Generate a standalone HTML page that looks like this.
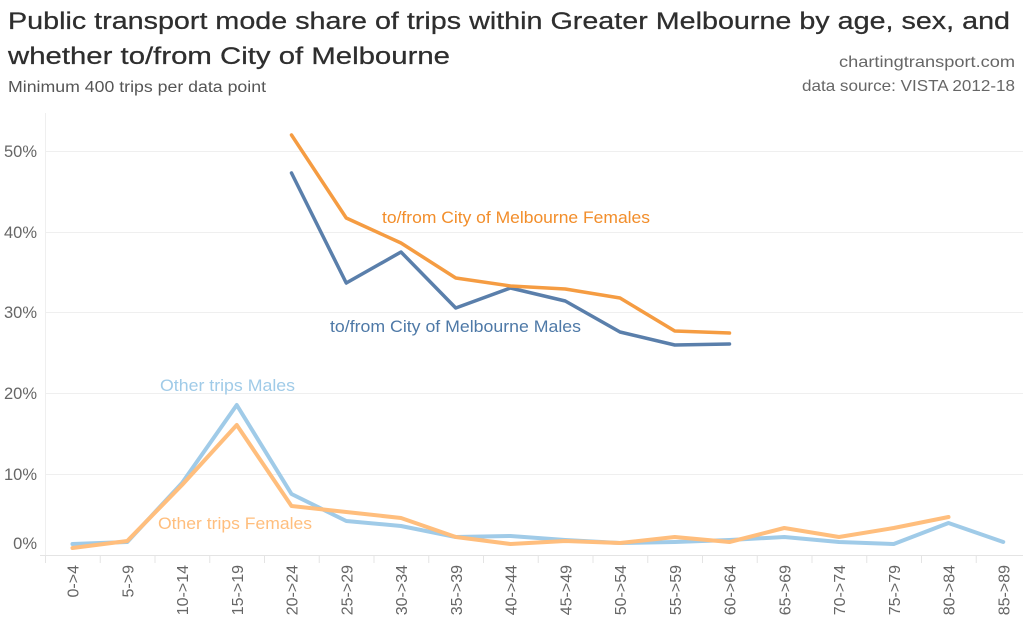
<!DOCTYPE html>
<html><head><meta charset="utf-8"><style>
html,body{margin:0;padding:0;background:#fff;}
svg{display:block;font-family:"Liberation Sans",sans-serif;}
</style></head><body>
<svg width="1023" height="626" viewBox="0 0 1023 626" xmlns="http://www.w3.org/2000/svg">
<rect width="1023" height="626" fill="#fff"/>
<text x="8" y="29" font-size="24.5" fill="#2e2e2e" stroke="#2e2e2e" stroke-width="0.25" textLength="1002" lengthAdjust="spacingAndGlyphs">Public transport mode share of trips within Greater Melbourne by age, sex, and</text>
<text x="8" y="64" font-size="24.5" fill="#2e2e2e" stroke="#2e2e2e" stroke-width="0.25" textLength="442" lengthAdjust="spacingAndGlyphs">whether to/from City of Melbourne</text>
<text x="8" y="92" font-size="15.5" fill="#555" textLength="258" lengthAdjust="spacingAndGlyphs">Minimum 400 trips per data point</text>
<text x="1015" y="67" font-size="16" fill="#666" text-anchor="end" textLength="176" lengthAdjust="spacingAndGlyphs">chartingtransport.com</text>
<text x="1015" y="91" font-size="16" fill="#666" text-anchor="end" textLength="213" lengthAdjust="spacingAndGlyphs">data source: VISTA 2012-18</text>

<g stroke="#efefef" stroke-width="1">
<line x1="45" y1="151.5" x2="1023" y2="151.5"/>
<line x1="45" y1="232.5" x2="1023" y2="232.5"/>
<line x1="45" y1="312.5" x2="1023" y2="312.5"/>
<line x1="45" y1="393.5" x2="1023" y2="393.5"/>
<line x1="45" y1="474.5" x2="1023" y2="474.5"/>
<line x1="45.5" y1="113" x2="45.5" y2="555"/>
</g>
<line x1="40" y1="555.5" x2="1023" y2="555.5" stroke="#e4e4e4" stroke-width="1"/>
<g stroke="#e4e4e4" stroke-width="1">
<line x1="45.5" y1="556" x2="45.5" y2="563"/>
<line x1="100.25" y1="556" x2="100.25" y2="563"/>
<line x1="155" y1="556" x2="155" y2="563"/>
<line x1="209.75" y1="556" x2="209.75" y2="563"/>
<line x1="264.5" y1="556" x2="264.5" y2="563"/>
<line x1="319.25" y1="556" x2="319.25" y2="563"/>
<line x1="374" y1="556" x2="374" y2="563"/>
<line x1="428.75" y1="556" x2="428.75" y2="563"/>
<line x1="483.5" y1="556" x2="483.5" y2="563"/>
<line x1="538.25" y1="556" x2="538.25" y2="563"/>
<line x1="593" y1="556" x2="593" y2="563"/>
<line x1="647.75" y1="556" x2="647.75" y2="563"/>
<line x1="702.5" y1="556" x2="702.5" y2="563"/>
<line x1="757.25" y1="556" x2="757.25" y2="563"/>
<line x1="812" y1="556" x2="812" y2="563"/>
<line x1="866.75" y1="556" x2="866.75" y2="563"/>
<line x1="921.5" y1="556" x2="921.5" y2="563"/>
<line x1="976.25" y1="556" x2="976.25" y2="563"/>
</g>

<g font-size="16.5" fill="#666" text-anchor="end">
<text x="37" y="157">50%</text>
<text x="37" y="238">40%</text>
<text x="37" y="318">30%</text>
<text x="37" y="399">20%</text>
<text x="37" y="480">10%</text>
<text x="37" y="549">0%</text>
</g>

<g font-size="16" fill="#666" text-anchor="end">
<text transform="translate(78.5,565) rotate(-90)">0-&gt;4</text>
<text transform="translate(133.25,565) rotate(-90)">5-&gt;9</text>
<text transform="translate(188,565) rotate(-90)">10-&gt;14</text>
<text transform="translate(242.75,565) rotate(-90)">15-&gt;19</text>
<text transform="translate(297.5,565) rotate(-90)">20-&gt;24</text>
<text transform="translate(352.25,565) rotate(-90)">25-&gt;29</text>
<text transform="translate(407,565) rotate(-90)">30-&gt;34</text>
<text transform="translate(461.75,565) rotate(-90)">35-&gt;39</text>
<text transform="translate(516.5,565) rotate(-90)">40-&gt;44</text>
<text transform="translate(571.25,565) rotate(-90)">45-&gt;49</text>
<text transform="translate(626,565) rotate(-90)">50-&gt;54</text>
<text transform="translate(680.75,565) rotate(-90)">55-&gt;59</text>
<text transform="translate(735.5,565) rotate(-90)">60-&gt;64</text>
<text transform="translate(790.25,565) rotate(-90)">65-&gt;69</text>
<text transform="translate(845,565) rotate(-90)">70-&gt;74</text>
<text transform="translate(899.75,565) rotate(-90)">75-&gt;79</text>
<text transform="translate(954.5,565) rotate(-90)">80-&gt;84</text>
<text transform="translate(1009.25,565) rotate(-90)">85-&gt;89</text>
</g>

<g fill="none" stroke-linejoin="round" stroke-linecap="round">
<polyline stroke="#a0cbe8" stroke-width="4" points="72.5,544 127.25,542 182,483 236.75,405 291.5,494 346.25,521 401,526 455.75,537 510.5,536 565.25,540 620,543 674.75,542 729.5,540 784.25,537 839,542 893.75,544 948.5,523 1003.25,542"/>
<polyline stroke="#ffbe7d" stroke-width="4" points="72.5,548 127.25,541 182,485 236.75,425 291.5,506 346.25,512 401,518 455.75,537 510.5,544 565.25,541 620,543 674.75,537 729.5,542 784.25,528 839,537 893.75,528 948.5,517"/>
<polyline stroke="#5a7fab" stroke-width="3.5" points="291.5,173 346.25,283 401,252 455.75,308 510.5,288 565.25,301 620,332 674.75,345 729.5,344"/>
<polyline stroke="#f59c42" stroke-width="3.5" points="291.5,135 346.25,218 401,243 455.75,278 510.5,286 565.25,289 620,298 674.75,331 729.5,333"/>
</g>

<g font-size="16.5">
<text x="382" y="223" fill="#f28e2b" textLength="268" lengthAdjust="spacingAndGlyphs">to/from City of Melbourne Females</text>
<text x="330" y="332" fill="#4e79a7" textLength="251" lengthAdjust="spacingAndGlyphs">to/from City of Melbourne Males</text>
<text x="160" y="391" fill="#a0cbe8" textLength="135" lengthAdjust="spacingAndGlyphs">Other trips Males</text>
<text x="158" y="529" fill="#ffbe7d" textLength="154" lengthAdjust="spacingAndGlyphs">Other trips Females</text>
</g>
</svg>
</body></html>
